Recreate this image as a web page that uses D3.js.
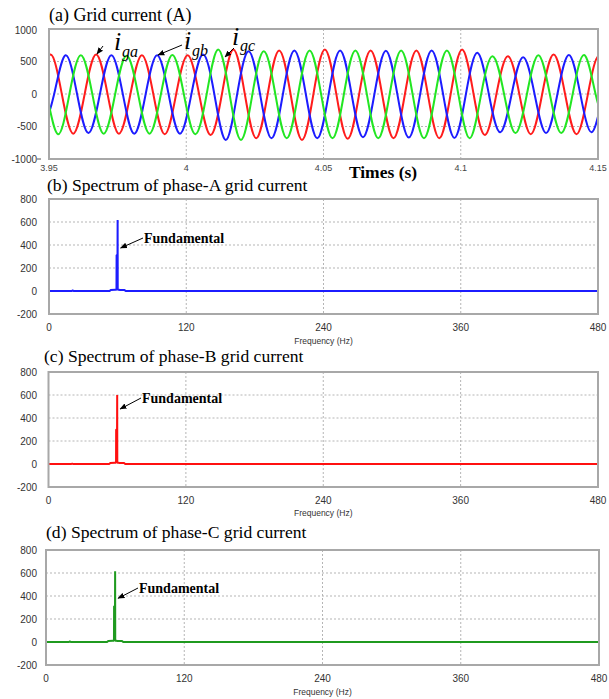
<!DOCTYPE html>
<html><head><meta charset="utf-8">
<script src="https://cdn.jsdelivr.net/npm/d3@7"></script>
<style>
html,body{margin:0;padding:0;background:#fff;}
svg{display:block;}
</style></head>
<body>
<svg id="chart" width="609" height="699"></svg>
<script>
// ---------- DATA ----------
const timeTicks = [3.95, 4, 4.05, 4.1, 4.15];
const timeTickLabels = ["3.95", "4", "4.05", "4.1", "4.15"];
const currentTicks = [-1000, -500, 0, 500, 1000];
const currentGrid = [-500, 0, 500];
const gridFrequency = 60; // Hz
// time of first listed extreme for each phase (s)
const igaStart = 3.942167;
const igbStart = 3.947722;
const igcStart = 3.944944;
// successive half-cycle extremes (A)
const igaExtremes = [-600, 607, -610, 607, -610, 597, -620, 597, -630, 685, -680, 670, -707, 685, -690, 670, -680, 670, -680, 685, -630, 581, -618, 607, -618, 590, -600];
const igbExtremes = [-600, 597, -600, 597, -610, 597, -610, 607, -707, 659, -680, 670, -680, 670, -665, 665, -670, 670, -675, 633, -588, 566, -600, 600, -588, 590];
const igcExtremes = [600, -618, 597, -610, 590, -610, 600, -618, 685, -707, 659, -680, 670, -680, 670, -680, 670, -680, 670, -680, 581, -600, 597, -600, 600, -600];

const freqTicks = [0, 120, 240, 360, 480];
const magTicks = [-200, 0, 200, 400, 600, 800];
const magGrid = [200, 400, 600];
const specFreq = [0, 20, 20.7, 21.4, 53, 54, 58, 59, 59.1, 59.9, 60, 60.1, 61, 62, 66, 67, 480];
const specA = [0, 0, 5, 0, 0, 9, 11, 11, 313, 313, 617, 11, 11, 9, 9, 0, 0];
const specB = [0, 0, 4, 0, 0, 9, 11, 11, 300, 300, 600, 11, 11, 9, 9, 0, 0];
const specC = [0, 0, 5, 0, 0, 9, 11, 11, 310, 310, 615, 11, 11, 9, 9, 0, 0];
const annotValues = [374, 478, 380];

// ---------- DRAW ----------
const svg = d3.select("#chart");
const serif = "'Liberation Serif','Times New Roman',serif";
const sans = "'Liberation Sans',Arial,sans-serif";
const defs = svg.append("defs");
defs.append("marker").attr("id", "arr").attr("viewBox", "0 0 10 10")
  .attr("refX", 9).attr("refY", 5).attr("markerWidth", 7).attr("markerHeight", 7)
  .attr("markerUnits", "userSpaceOnUse").attr("orient", "auto")
  .append("path").attr("d", "M0,1 L10,5 L0,9 Z").attr("fill", "#000");

function frame(g, x0, x1, y0, y1) {
  g.append("rect").attr("x", x0).attr("y", y0).attr("width", x1 - x0).attr("height", y1 - y0)
    .attr("fill", "none").attr("stroke", "#a8a8a8").attr("stroke-width", 2);
}

// ----- (a) Grid current -----
{
  const L = 49, R = 598, T = 29, B = 159;
  const x = d3.scaleLinear().domain([3.95, 4.15]).range([L, R]);
  const y = d3.scaleLinear().domain([-1000, 1000]).range([B, T]);
  const g = svg.append("g");
  g.append("text").attr("x", 49).attr("y", 21).attr("font-family", serif).attr("font-size", 18)
    .text("(a) Grid current (A)");
  // grid
  g.selectAll(".hg").data(currentGrid).enter().append("line")
    .attr("x1", L).attr("x2", R).attr("y1", d => y(d)).attr("y2", d => y(d))
    .attr("stroke", "#b5b5b5").attr("stroke-dasharray", "2,2").attr("stroke-width", 1);
  g.selectAll(".vg").data(timeTicks.slice(1, 4)).enter().append("line")
    .attr("y1", T).attr("y2", B).attr("x1", d => x(d)).attr("x2", d => x(d))
    .attr("stroke", "#b5b5b5").attr("stroke-dasharray", "2,2").attr("stroke-width", 1);
  // waves
  const half = 1 / (2 * gridFrequency);
  function wavePoints(start, ext) {
    const pts = [];
    ext.forEach((v, i) => {
      const t = start + i * half;
      if (i > 0) pts.push([t - half / 2, 0]);
      pts.push([t, v]);
    });
    return pts;
  }
  const clip = defs.append("clipPath").attr("id", "clipA");
  clip.append("rect").attr("x", L).attr("y", T).attr("width", R - L).attr("height", B - T);
  const line = d3.line().x(d => x(d[0])).y(d => y(d[1])).curve(d3.curveNatural);
  const wg = g.append("g").attr("clip-path", "url(#clipA)");
  [[igaStart, igaExtremes, "#ff1c1c"], [igbStart, igbExtremes, "#1c1cff"], [igcStart, igcExtremes, "#22e622"]]
    .forEach(([s, e, c]) => {
      wg.append("path").attr("d", line(wavePoints(s, e))).attr("fill", "none")
        .attr("stroke", c).attr("stroke-width", 2);
    });
  frame(g, L, R, T, B);
  // y ticks
  g.selectAll(".yl").data(currentTicks).enter().append("text")
    .attr("x", 37).attr("y", d => y(d) + (d === 1000 ? 5 : 3.5)).attr("text-anchor", "end")
    .attr("font-family", sans).attr("font-size", 10).attr("fill", "#333").text(d => d);
  g.append("line").attr("x1", 37).attr("x2", 41).attr("y1", B).attr("y2", B).attr("stroke", "#555");
  // x ticks
  g.selectAll(".xl").data(timeTicks).enter().append("text")
    .attr("x", d => x(d)).attr("y", 171).attr("text-anchor", "middle")
    .attr("font-family", sans).attr("font-size", 9).attr("fill", "#444")
    .text((d, i) => timeTickLabels[i]);
  g.append("text").attr("x", 383).attr("y", 178).attr("text-anchor", "middle")
    .attr("font-family", serif).attr("font-weight", "bold").attr("font-size", 17.5).text("Times (s)");
  // phase labels
  const labels = [
    {ix: 114, iy: 50, sub: "ga", sx: 122, sy: 57, a: [103, 46, 97, 54]},
    {ix: 184, iy: 49, sub: "gb", sx: 192, sy: 56, a: [182, 45, 158, 55]},
    {ix: 232, iy: 45, sub: "gc", sx: 240, sy: 51, a: [234, 48, 225, 57]}
  ];
  labels.forEach(l => {
    g.append("text").attr("x", l.ix).attr("y", l.iy).attr("font-family", serif)
      .attr("font-style", "italic").attr("font-size", 26).text("i");
    g.append("text").attr("x", l.sx).attr("y", l.sy).attr("font-family", serif)
      .attr("font-style", "italic").attr("font-size", 16).text(l.sub);
    g.append("line").attr("x1", l.a[0]).attr("y1", l.a[1]).attr("x2", l.a[2]).attr("y2", l.a[3])
      .attr("stroke", "#000").attr("stroke-width", 1).attr("marker-end", "url(#arr)");
  });
}

// ----- Spectrum panels -----
const panels = [
  {title: "(b) Spectrum of phase-A grid current", tx: 47, ty: 191, L: 49, R: 598, T: 199, B: 314,
   data: specA, color: "#1c1cff", textX: 144, textY: 243, ann: annotValues[0], fy: 327, ly: 344},
  {title: "(c) Spectrum of phase-B grid current", tx: 44, ty: 362, L: 48.5, R: 598, T: 372, B: 487,
   data: specB, color: "#ff1010", textX: 142, textY: 403, ann: annotValues[1], fy: 500, ly: 516},
  {title: "(d) Spectrum of phase-C grid current", tx: 46, ty: 538, L: 46, R: 599, T: 550, B: 665,
   data: specC, color: "#1f9a1f", textX: 139, textY: 593, ann: annotValues[2], fy: 678, ly: 695}
];

panels.forEach((p, k) => {
  const x = d3.scaleLinear().domain([0, 480]).range([p.L, p.R]);
  const y = d3.scaleLinear().domain([-200, 800]).range([p.B, p.T]);
  const g = svg.append("g");
  g.append("text").attr("x", p.tx).attr("y", p.ty).attr("font-family", serif).attr("font-size", 17.6)
    .text(p.title);
  g.selectAll(".hg").data(magGrid).enter().append("line")
    .attr("x1", p.L).attr("x2", p.R).attr("y1", d => y(d)).attr("y2", d => y(d))
    .attr("stroke", "#b5b5b5").attr("stroke-dasharray", "2,2").attr("stroke-width", 1);
  g.selectAll(".vg").data(freqTicks.slice(1, 4)).enter().append("line")
    .attr("y1", p.T).attr("y2", p.B).attr("x1", d => x(d)).attr("x2", d => x(d))
    .attr("stroke", "#b5b5b5").attr("stroke-dasharray", "2,2").attr("stroke-width", 1);
  const pts = specFreq.map((f, i) => [f, p.data[i]]);
  g.append("path").attr("d", d3.line().x(d => x(d[0])).y(d => y(d[1]))(pts))
    .attr("fill", "none").attr("stroke", p.color).attr("stroke-width", 2).attr("stroke-linejoin", "bevel");
  frame(g, p.L, p.R, p.T, p.B);
  g.selectAll(".yl").data(magTicks).enter().append("text")
    .attr("x", 37).attr("y", d => y(d) + 3.5).attr("text-anchor", "end")
    .attr("font-family", sans).attr("font-size", 10).attr("fill", "#333").text(d => d);
  g.selectAll(".xl").data(freqTicks).enter().append("text")
    .attr("x", d => x(d)).attr("y", p.fy + 3.5).attr("text-anchor", "middle")
    .attr("font-family", sans).attr("font-size", 10).attr("fill", "#333").text(d => d);
  g.append("text").attr("x", x(240)).attr("y", p.ly).attr("text-anchor", "middle")
    .attr("font-family", sans).attr("font-size", 8.5).attr("fill", "#333").text("Frequency (Hz)");
  g.append("text").attr("x", p.textX).attr("y", p.textY).attr("font-family", serif)
    .attr("font-weight", "bold").attr("font-size", 14).text("Fundamental");
  g.append("line").attr("x1", p.textX - 1).attr("y1", p.textY - 5)
    .attr("x2", x(60) + 3).attr("y2", y(p.ann))
    .attr("stroke", "#000").attr("stroke-width", 1).attr("marker-end", "url(#arr)");
});
</script>
</body></html>
